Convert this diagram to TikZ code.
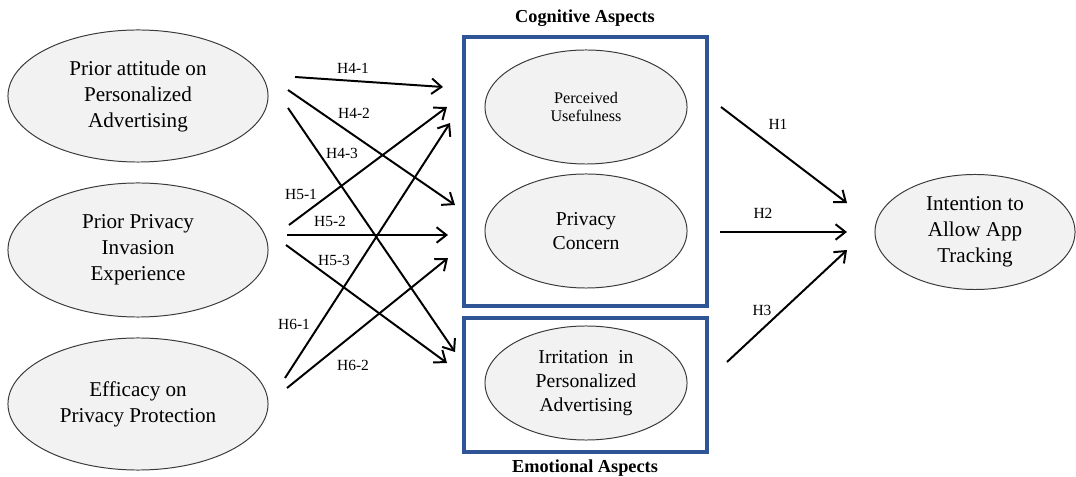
\documentclass[tikz,border=0pt]{standalone}
\usepackage{fontspec}
\setmainfont{Liberation Serif}
\usetikzlibrary{arrows.meta, shapes.geometric}
\definecolor{boxblue}{HTML}{2F5597}
\definecolor{ovfill}{HTML}{F2F2F2}
\definecolor{ovline}{HTML}{3A3A3A}
\tikzset{
  var/.style={ellipse, draw=ovline, fill=ovfill, line width=0.7pt, align=center, inner sep=0pt,
              font=\fontsize{15}{18.5}\selectfont},
  med/.style={ellipse, draw=ovline, fill=ovfill, line width=0.7pt, align=center, inner sep=0pt,
              minimum width=5.05cm, minimum height=2.85cm},
  grp/.style={draw=boxblue, line width=2.3pt, minimum width=6.075cm},
  grpt/.style={font=\fontsize{13}{15}\selectfont\bfseries, inner sep=1pt},
  arr/.style={-{Straight Barb[length=7pt, width=11pt]}, line width=1.4pt},
  lbl/.style={font=\fontsize{11}{12}\selectfont, inner sep=1pt},
}

\begin{document}
\begin{tikzpicture}[x=0.025cm, y=-0.025cm]
    \useasboundingbox (0,0) rectangle (1076,477);

    % antecedents
    \node[var, minimum width=6.5cm, minimum height=3.3cm] (att) at (138,96)
         {Prior attitude on\\Personalized\\Advertising};
    \node[var, minimum width=6.5cm, minimum height=3.35cm] (inv) at (138,250)
         {Prior Privacy\\Invasion\\Experience};
    \node[var, minimum width=6.5cm, minimum height=3.3cm] (eff) at (138,404)
         {Efficacy on\\Privacy Protection};

    % cognitive / emotional groups
    \node[grp, minimum height=6.725cm] (cog) at (585.5,171.5) {};
    \node[grp, minimum height=3.35cm] (emo) at (585.5,385) {};
    \node[grpt] (cogt) at (585,18) {Cognitive Aspects};
    \node[grpt] (emot) at (585,468) {Emotional Aspects};

    \node[med, font=\fontsize{11.5}{13}\selectfont] (pu) at (586,107) {Perceived\\Usefulness};
    \node[med, font=\fontsize{14}{16.5}\selectfont] (pc) at (586,231) {Privacy\\Concern};
    \node[med, font=\fontsize{14}{17}\selectfont] (irr) at (586,383)
         {Irritation\ \ in\\Personalized\\Advertising};

    % outcome
    \node[var, minimum width=5cm, minimum height=2.875cm] (int) at (975,232)
         {Intention to\\Allow App\\Tracking};

    % arrow ends
    \coordinate (s41) at (295,77);  \coordinate (e41) at (443,87);
    \coordinate (s42) at (288,90);  \coordinate (e42) at (455,205);
    \coordinate (s43) at (288,108); \coordinate (e43) at (455,352);
    \coordinate (s51) at (289,225); \coordinate (e51) at (447,107);
    \coordinate (s52) at (287,235); \coordinate (e52) at (448,235);
    \coordinate (s53) at (286,245); \coordinate (e53) at (447,363);
    \coordinate (s61) at (285,378); \coordinate (e61) at (450,123);
    \coordinate (s62) at (287,388); \coordinate (e62) at (448,258);
    \coordinate (s1) at (721,107);  \coordinate (e1) at (847,203);
    \coordinate (s2) at (720,232);  \coordinate (e2) at (847,232);
    \coordinate (s3) at (727,362);  \coordinate (e3) at (847,250);

    \draw[arr] (s41) -- (e41);
    \draw[arr] (s42) -- (e42);
    \draw[arr] (s43) -- (e43);
    \draw[arr] (s51) -- (e51);
    \draw[arr] (s52) -- (e52);
    \draw[arr] (s53) -- (e53);
    \draw[arr] (s61) -- (e61);
    \draw[arr] (s62) -- (e62);
    \draw[arr] (s1) -- (e1);
    \draw[arr] (s2) -- (e2);
    \draw[arr] (s3) -- (e3);

    % hypothesis labels
    \node[lbl] (l41) at (353,68)  {H4-1};
    \node[lbl] (l42) at (354,113) {H4-2};
    \node[lbl] (l43) at (342,153) {H4-3};
    \node[lbl] (l51) at (301,194) {H5-1};
    \node[lbl] (l52) at (330,221) {H5-2};
    \node[lbl] (l53) at (334,260) {H5-3};
    \node[lbl] (l61) at (294,324) {H6-1};
    \node[lbl] (l62) at (353,365) {H6-2};
    \node[lbl] (l1) at (778,124) {H1};
    \node[lbl] (l2) at (763,213) {H2};
    \node[lbl] (l3) at (762,310) {H3};
  \end{tikzpicture}
\end{document}
